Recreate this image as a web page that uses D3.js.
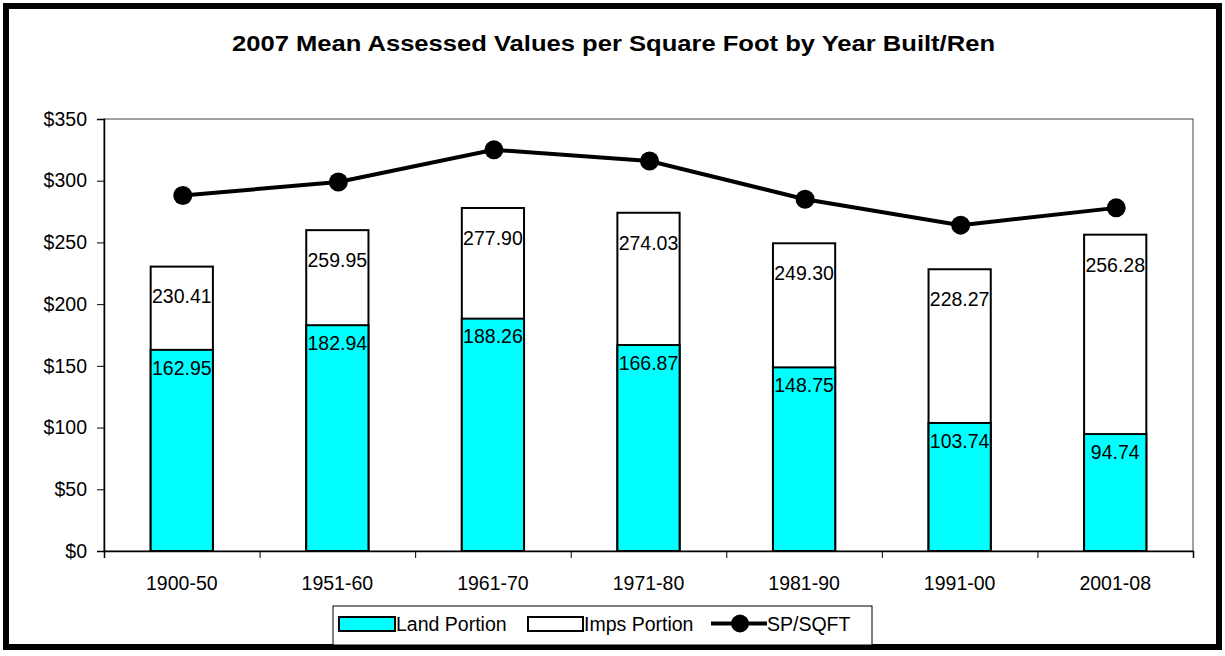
<!DOCTYPE html>
<meta charset="utf-8">
<style>
  body { margin: 0; background: white; }
  svg text { font-family: "Liberation Sans", Arial, sans-serif; fill: black; }
  .axis path, .axis line { stroke: black; }
  .axis text { font-size: 19.5px; }
</style>
<svg width="1225" height="656"></svg>
<script src="https://d3js.org/d3.v7.min.js"></script>
<script>

var periods = ["1900-50", "1951-60", "1961-70", "1971-80", "1981-90", "1991-00", "2001-08"],
    landPortion = [162.95, 182.94, 188.26, 166.87, 148.75, 103.74, 94.74],
    impsTotal = [230.41, 259.95, 277.90, 274.03, 249.30, 228.27, 256.28],
    spSqft = [288, 299, 325, 316, 285, 264, 278],
    yTicks = [0, 50, 100, 150, 200, 250, 300, 350];

var svg = d3.select("svg"),
    margin = { top: 119, right: 32, bottom: 105, left: 104 },
    width = +svg.attr("width") - margin.left - margin.right,
    height = +svg.attr("height") - margin.top - margin.bottom;

// outer frame
svg.append("rect")
    .attr("x", 6).attr("y", 6)
    .attr("width", 1213).attr("height", 641)
    .attr("fill", "white")
    .attr("stroke", "black")
    .attr("stroke-width", 6);

svg.append("text")
    .attr("x", 232).attr("y", 51)
    .attr("textLength", 763)
    .attr("lengthAdjust", "spacingAndGlyphs")
    .style("font-size", "22px")
    .style("font-weight", "bold")
    .text("2007 Mean Assessed Values per Square Foot by Year Built/Ren");

var g = svg.append("g").attr("transform", "translate(" + margin.left + "," + margin.top + ")");

var x = d3.scaleBand().domain(periods).range([0, width]);
var xEdge = d3.scaleLinear().domain([0, periods.length]).range([0, width]);
var y = d3.scaleLinear().domain([0, 350]).range([height, 0]);

// plot area frame
g.append("rect")
    .attr("width", width).attr("height", height)
    .attr("fill", "none")
    .attr("stroke", "#444")
    .attr("stroke-width", 1);

g.append("g")
    .attr("class", "axis")
    .call(d3.axisLeft(y).tickValues(yTicks).tickSize(7).tickPadding(10)
        .tickFormat(function (d) { return "$" + d; }))
    .call(function (s) { s.select(".domain").attr("stroke-width", 1.5); });

g.append("g")
    .attr("class", "axis")
    .attr("transform", "translate(0," + height + ")")
    .call(d3.axisBottom(xEdge).ticks(periods.length).tickSize(7).tickFormat(""))
    .call(function (s) { s.select(".domain").attr("stroke-width", 1.5); });

g.append("g")
    .attr("class", "axis")
    .attr("transform", "translate(0," + height + ")")
    .call(d3.axisBottom(x).tickSize(0).tickPadding(25))
    .call(function (s) { s.select(".domain").remove(); });

var barW = x.bandwidth() * 0.4;

// imps portion (drawn to total)
g.selectAll(".imps")
    .data(impsTotal)
    .enter().append("rect")
    .attr("class", "imps")
    .attr("x", function (d, i) { return x(periods[i]) + (x.bandwidth() - barW) / 2; })
    .attr("y", function (d) { return y(d); })
    .attr("width", barW)
    .attr("height", function (d) { return height - y(d); })
    .attr("fill", "white")
    .attr("stroke", "black")
    .attr("stroke-width", 2);

g.selectAll(".land")
    .data(landPortion)
    .enter().append("rect")
    .attr("class", "land")
    .attr("x", function (d, i) { return x(periods[i]) + (x.bandwidth() - barW) / 2; })
    .attr("y", function (d) { return y(d); })
    .attr("width", barW)
    .attr("height", function (d) { return height - y(d); })
    .attr("fill", "#00ffff")
    .attr("stroke", "black")
    .attr("stroke-width", 2);

g.selectAll(".impsLabel")
    .data(impsTotal)
    .enter().append("text")
    .attr("x", function (d, i) { return x(periods[i]) + x.bandwidth() / 2; })
    .attr("y", function (d) { return y(d) + 30; })
    .attr("dy", "0.35em")
    .attr("text-anchor", "middle")
    .style("font-size", "19.5px")
    .text(function (d) { return d.toFixed(2); });

g.selectAll(".landLabel")
    .data(landPortion)
    .enter().append("text")
    .attr("x", function (d, i) { return x(periods[i]) + x.bandwidth() / 2; })
    .attr("y", function (d) { return y(d) + 18; })
    .attr("dy", "0.35em")
    .attr("text-anchor", "middle")
    .style("font-size", "19.5px")
    .text(function (d) { return d.toFixed(2); });

var line = d3.line()
    .x(function (d, i) { return x(periods[i]) + x.bandwidth() / 2 + 1; })
    .y(function (d) { return y(d); });

g.append("path")
    .datum(spSqft)
    .attr("d", line)
    .attr("fill", "none")
    .attr("stroke", "black")
    .attr("stroke-width", 4);

g.selectAll(".dot")
    .data(spSqft)
    .enter().append("circle")
    .attr("cx", function (d, i) { return x(periods[i]) + x.bandwidth() / 2 + 1; })
    .attr("cy", function (d) { return y(d); })
    .attr("r", 9.5)
    .attr("fill", "black");

// legend
var lg = svg.append("g").attr("transform", "translate(333,606)");
lg.append("rect")
    .attr("width", 539).attr("height", 39)
    .attr("fill", "white").attr("stroke", "black").attr("stroke-width", 1);
lg.append("rect")
    .attr("x", 6).attr("y", 11).attr("width", 56).attr("height", 14)
    .attr("fill", "#00ffff").attr("stroke", "black").attr("stroke-width", 2);
lg.append("text").attr("x", 63).attr("y", 24.5).style("font-size", "19.5px").text("Land Portion");
lg.append("rect")
    .attr("x", 195).attr("y", 11).attr("width", 55).attr("height", 14)
    .attr("fill", "white").attr("stroke", "black").attr("stroke-width", 2);
lg.append("text").attr("x", 251).attr("y", 24.5).style("font-size", "19.5px").text("Imps Portion");
lg.append("line")
    .attr("x1", 378).attr("x2", 434).attr("y1", 17.5).attr("y2", 17.5)
    .attr("stroke", "black").attr("stroke-width", 4);
lg.append("circle").attr("cx", 407).attr("cy", 17.5).attr("r", 9).attr("fill", "black");
lg.append("text").attr("x", 434).attr("y", 24.5).style("font-size", "19.5px").text("SP/SQFT");

</script>
